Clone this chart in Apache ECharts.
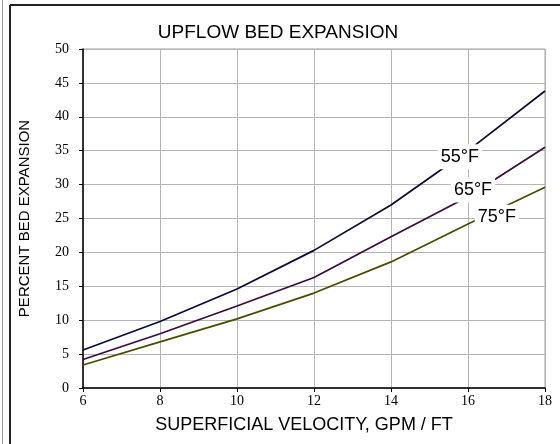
<!DOCTYPE html>
<html>
<head>
<meta charset="utf-8">
<script src="https://cdn.jsdelivr.net/npm/echarts@6/dist/echarts.min.js"></script>
<style>
  html, body { margin: 0; padding: 0; background: #fff; }
  #chart { width: 560px; height: 444px; }
</style>
</head>
<body>
<div id="chart"></div>
<script>
  // superficial velocity, gpm / ft
  var velocity = [6, 8, 10, 12, 14, 16, 18];
  // percent bed expansion per water temperature
  var temp55 = [5.6, 9.8, 14.6, 20.3, 27.0, 35.0, 43.8];
  var temp65 = [4.2, 8.0, 12.1, 16.3, 22.3, 28.2, 35.5];
  var temp75 = [3.4, 6.8, 10.2, 14.0, 18.6, 24.2, 29.6];
  var seriesNames = ['55°F', '65°F', '75°F'];
  var seriesColors = ['#0a0a3a', '#3a0a3a', '#4a4a00'];
  // where the temperature tags sit (data units)
  var tagPos = [[15.79, 34.1], [16.13, 29.2], [16.75, 25.2]];

  var chart = echarts.init(document.getElementById('chart'));

  function pairs(vals) {
    return velocity.map(function (v, i) { return [v, vals[i]]; });
  }

  var lines = [temp55, temp65, temp75].map(function (vals, i) {
    return {
      name: seriesNames[i],
      type: 'line',
      data: pairs(vals),
      symbol: 'none',
      lineStyle: { color: seriesColors[i], width: 1.7 },
      z: 3
    };
  });

  var tags = {
    type: 'scatter',
    symbolSize: 1,
    z: 10,
    itemStyle: { opacity: 0 },
    data: tagPos.map(function (p, i) { return { value: p, name: seriesNames[i] }; }),
    label: {
      show: true,
      position: 'inside',
      formatter: '{b}',
      fontFamily: 'Liberation Sans, Arial, sans-serif',
      fontSize: 18,
      color: '#000',
      opacity: 1,
      backgroundColor: '#fff',
      padding: [4, 3, 3, 3]
    },
    silent: true
  };

  var option = {
    backgroundColor: '#fff',
    animation: false,
    title: {
      text: 'UPFLOW BED EXPANSION',
      left: 273,
      top: 18,
      textAlign: 'center',
      textStyle: {
        fontFamily: 'Liberation Sans, Arial, sans-serif',
        fontWeight: 'normal',
        fontSize: 19,
        color: '#000'
      }
    },
    grid: {
      left: 83,
      right: 15,
      top: 49,
      bottom: 56,
      show: true,
      borderColor: '#a0a0a0',
      borderWidth: 1
    },
    xAxis: {
      type: 'value',
      min: 6,
      max: 18,
      interval: 2,
      name: 'SUPERFICIAL VELOCITY, GPM / FT',
      nameLocation: 'middle',
      nameGap: 28,
      nameTextStyle: {
        fontFamily: 'Liberation Sans, Arial, sans-serif',
        fontSize: 18,
        color: '#000',
        padding: [0, 20, 0, 0]
      },
      axisLine: { show: true, lineStyle: { color: '#000', width: 1.5 } },
      axisTick: { show: true, length: 4, lineStyle: { color: '#000' } },
      axisLabel: {
        fontFamily: 'Liberation Serif, Times New Roman, serif',
        fontSize: 14,
        color: '#000',
        margin: 6
      },
      splitLine: { show: true, lineStyle: { color: '#b4b4b4', width: 1 } }
    },
    yAxis: {
      type: 'value',
      min: 0,
      max: 50,
      interval: 5,
      name: 'PERCENT BED EXPANSION',
      nameLocation: 'middle',
      nameGap: 51,
      nameTextStyle: {
        fontFamily: 'Liberation Sans, Arial, sans-serif',
        fontSize: 15,
        color: '#000'
      },
      axisLine: { show: true, lineStyle: { color: '#000', width: 1.5 } },
      axisTick: { show: true, length: 4, lineStyle: { color: '#000' } },
      axisLabel: {
        fontFamily: 'Liberation Serif, Times New Roman, serif',
        fontSize: 14,
        color: '#000',
        margin: 14
      },
      splitLine: { show: true, lineStyle: { color: '#b4b4b4', width: 1 } }
    },
    graphic: [
      { type: 'line', shape: { x1: 10, y1: 5, x2: 560, y2: 5 }, style: { stroke: '#222', lineWidth: 2 } },
      { type: 'line', shape: { x1: 10, y1: 5, x2: 10, y2: 444 }, style: { stroke: '#222', lineWidth: 2 } },
      { type: 'line', shape: { x1: 2.5, y1: 0, x2: 2.5, y2: 444 }, style: { stroke: '#999', lineWidth: 1 } }
    ],
    series: lines.concat([tags])
  };

  chart.setOption(option);
</script>
</body>
</html>
